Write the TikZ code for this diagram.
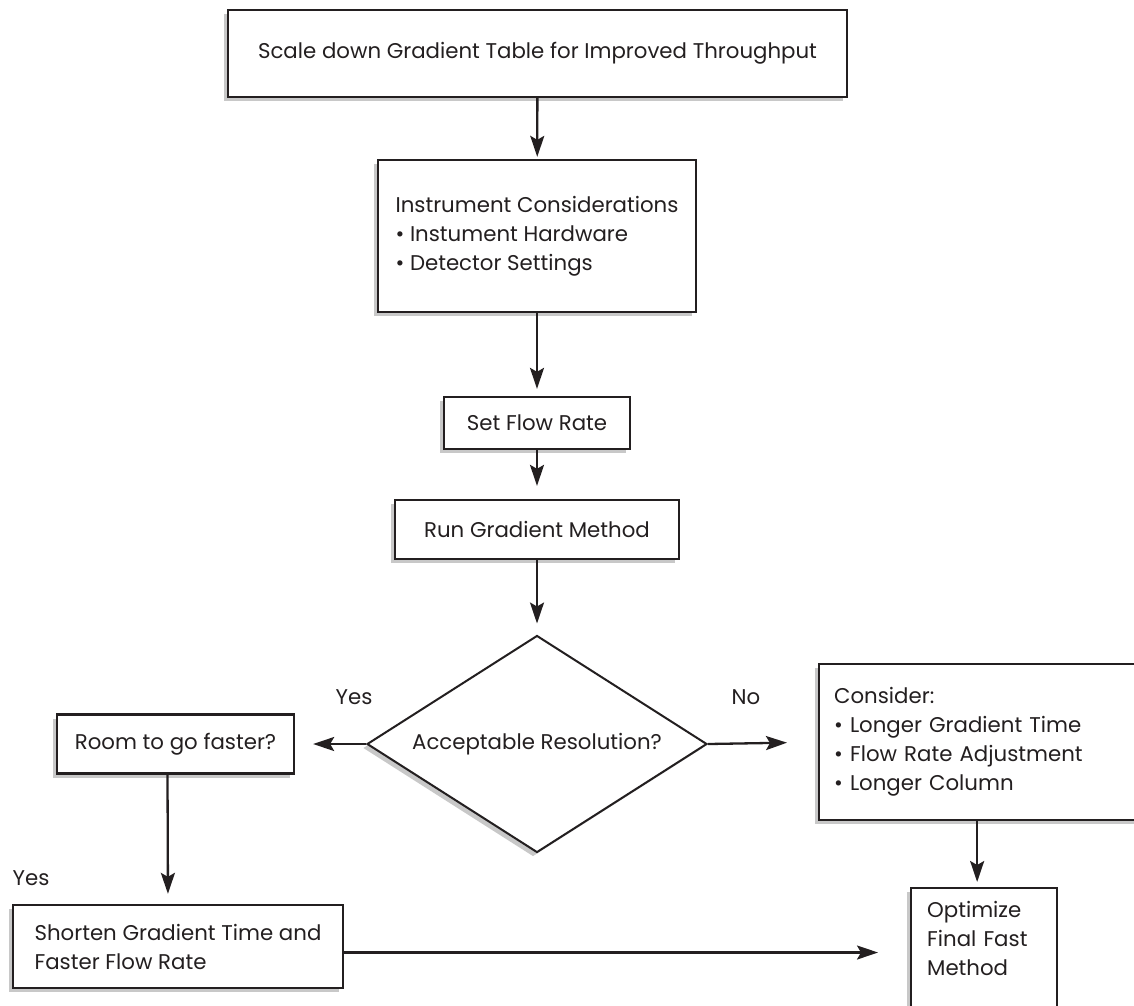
\documentclass[tikz,border=0pt]{standalone}
\usepackage{fontspec}
\setmainfont{Poppins}
\usetikzlibrary{shapes.geometric,arrows.meta,shadows}
\definecolor{ink}{HTML}{231F20}
\definecolor{shade}{HTML}{C8C8C8}
\begin{document}
\begin{tikzpicture}[x=1pt,y=-1pt,
  txt/.style={text=ink, font=\fontsize{21.3}{29}\selectfont},
  sh/.style={drop shadow={shadow xshift=-4pt, shadow yshift=-4pt, fill=shade, opacity=1}},
  box/.style={txt, sh, draw=ink, line width=2.3pt, fill=white, inner sep=0pt},
  dia/.style={txt, sh, diamond, draw=ink, line width=2pt, fill=white, inner sep=0pt, aspect=1.57, minimum width=340pt, minimum height=217pt},
  lbl/.style={txt},
  arr/.style={draw=ink, line width=2.3pt, -{Stealth[length=21pt, width=14pt, inset=4pt]}}
]
\path[use as bounding box] (0,0) rectangle (1134,1005);
\clip (0,0) rectangle (1134,1005);

\node[box, minimum width=619pt, minimum height=87pt] (top) at (537.5,53.5) {Scale down Gradient Table for Improved Throughput};
\node[box, minimum width=318pt, minimum height=152pt, align=left] (inst) at (537,236) {Instrument Considerations\\• Instument Hardware\\• Detector Settings};
\node[box, minimum width=186pt, minimum height=52pt] (flow) at (537,423) {Set Flow Rate};
\node[box, minimum width=284pt, minimum height=59pt] (run) at (537,529.5) {Run Gradient Method};
\node[dia] (dia) at (537,744) {Acceptable Resolution?};
\node[box, minimum width=237pt, minimum height=59pt] (room) at (175.5,744) {Room to go faster?};
\node[box, anchor=north west, minimum height=156pt, text width=302pt, inner xsep=15pt, align=left] (cons) at (818,663) {Consider:\\• Longer Gradient Time\\• Flow Rate Adjustment\\• Longer Column};
\node[box, minimum width=330pt, minimum height=83pt, align=left] (short) at (178,946.5) {Shorten Gradient Time and\\Faster Flow Rate};
\node[box, anchor=north west, text width=114pt, inner xsep=16pt, inner ysep=13pt, align=left] (opt) at (910,887) {Optimize\\Final Fast\\Method\\~};

\node[lbl] (yes1) at (354,697) {Yes};
\node[lbl] (no) at (746,697) {No};
\node[lbl] (yes2) at (31,878) {Yes};

\draw[arr, shorten >=2pt] (top) -- (inst);
\draw[arr, shorten >=7pt] (inst) -- (flow);
\draw[arr, shorten >=13pt] (flow) -- (run);
\draw[arr, shorten >=11pt] (run) -- (dia);
\draw[arr, shorten >=18pt] (dia.west) -- (room.east);
\draw[arr, shorten >=31pt] (dia.east) -- (cons.west);
\draw[arr, shorten >=10pt] ([xshift=-8pt]room.south) -- ([xshift=-10pt]short.north);
\draw[arr, shorten >=5pt] ([xshift=-8pt]cons.south) -- ([xshift=-7pt]opt.north);
\draw[arr, shorten >=32pt] ([yshift=-6pt]short.east) -- ([yshift=-6pt]short.east -| opt.west);
\end{tikzpicture}
\end{document}
